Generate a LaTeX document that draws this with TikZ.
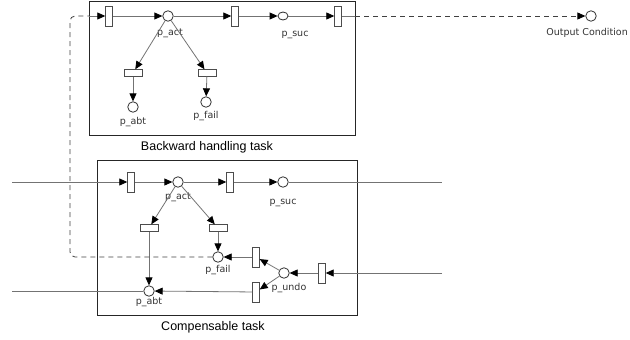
\documentclass[tikz,border=0pt]{standalone}
\usepackage{fontspec}
\setmainfont{DejaVu Sans}
\newfontfamily\capfont{Liberation Sans}
\usetikzlibrary{arrows.meta,shapes.geometric}
\begin{document}
\begin{tikzpicture}[x=1pt,y=-1pt,
  plain/.style={draw=black!55, line width=0.8pt},
  arc/.style={plain, -{Triangle[length=8pt,width=7pt,color=black]}},
  dashline/.style={draw=black!75, line width=0.8pt, dash pattern=on 5pt off 4pt},
  vtr/.style={rectangle, draw=black!70, fill=white, line width=0.9pt, minimum width=6.5pt, minimum height=20pt, inner sep=0pt},
  htr/.style={rectangle, draw=black!70, fill=white, line width=0.9pt, minimum width=18pt, minimum height=6.5pt, inner sep=0pt},
  pl/.style={circle, draw=black!80, fill=white, line width=0.8pt, minimum size=10.5pt, inner sep=0pt},
  lbl/.style={font=\fontsize{9.5}{10}\selectfont, text=black!80, inner sep=0pt},
  captxt/.style={font=\capfont\fontsize{12.5}{14}\selectfont, inner sep=0pt},
  boxst/.style={draw=black!85, line width=0.9pt}
]
\useasboundingbox (0,0) rectangle (630,340);

% ---------- Backward handling task ----------
\draw[boxst] (89,1) rectangle (355,135);
\node[captxt] at (207,147) {Backward handling task};

\node[vtr] (bt1) at (109,16) {};
\node[pl] (bact) at (168,16) {};
\node[vtr] (bt2) at (235,16) {};
\node[ellipse, draw=black!80, fill=white, line width=0.8pt, minimum width=10pt, minimum height=8pt, inner sep=0pt] (bsuc) at (283,16) {};
\node[vtr] (bt3) at (338,16) {};
\node[htr] (bta) at (133,73) {};
\node[htr] (btf) at (207,73) {};
\node[pl] (babt) at (133,107) {};
\node[pl] (bfail) at (206,102) {};

\node[lbl] at (170,33) {p\_act};
\node[lbl] at (295,35) {p\_suc};
\node[lbl] at (133,122) {p\_abt};
\node[lbl] at (206,116) {p\_fail};

\coordinate (bl) at (89,16);
\coordinate (br) at (355,16);

\draw[arc] (bl) -- (bt1);
\draw[arc] (bt1) -- (bact);
\draw[arc] (bact) -- (bt2);
\draw[arc] (bt2) -- (bsuc);
\draw[arc] (bsuc) -- (bt3);
\draw[arc] (bact) -- (bta);
\draw[arc] (bact) -- (btf);
\draw[arc] (bta) -- (babt);
\draw[arc] (btf) -- (bfail);
\draw[plain] (bt3) -- (br);

% ---------- Output condition ----------
\node[pl] (out) at (591,16) {};
\node[lbl, font=\fontsize{9.5}{10}\selectfont, anchor=east] at (628,33) {Output Condition};
\draw[dashline, -{Triangle[length=8pt,width=7pt,color=black]}] (br) -- (out);

% ---------- Compensable task ----------
\draw[boxst] (97,160) rectangle (357,315);
\node[captxt] at (213,327) {Compensable task};

\node[vtr] (ct1) at (131,182) {};
\node[pl] (cact) at (178,182) {};
\node[vtr] (ct2) at (230,182) {};
\node[pl] (csuc) at (283,182) {};
\node[htr] (cta) at (149,228) {};
\node[htr] (ctf) at (218,228) {};
\node[pl] (cfail) at (218,257) {};
\node[pl] (cabt) at (149,291) {};
\node[vtr] (cu1) at (256,257) {};
\node[vtr] (cu2) at (256,292) {};
\node[pl] (cundo) at (284,273) {};
\node[vtr] (cu3) at (322,273) {};

\node[lbl] at (178,197) {p\_act};
\node[lbl] at (283,203) {p\_suc};
\node[lbl] at (218,270) {p\_fail};
\node[lbl] at (149,302) {p\_abt};
\node[lbl] at (289,288) {p\_undo};

\coordinate (cinl) at (12,182);
\coordinate (coutr) at (442,182);
\coordinate (cinr) at (442,273);
\coordinate (cabtl) at (12,291);

\draw[arc] (cinl) -- (ct1);
\draw[arc] (ct1) -- (cact);
\draw[arc] (cact) -- (ct2);
\draw[arc] (ct2) -- (csuc);
\draw[plain] (csuc) -- (coutr);
\draw[arc] (cact) -- (cta);
\draw[arc] (cact) -- (ctf);
\draw[arc] (cta) -- (cabt);
\draw[arc] (ctf) -- (cfail);
\draw[arc] (cu1) -- (cfail);
\draw[arc] (cu2) -- (cabt);
\draw[arc] (cundo) -- (cu1);
\draw[arc] (cundo) -- (cu2);
\draw[arc] (cu3) -- (cundo);
\draw[arc] (cinr) -- (cu3);
\draw[plain] (cabt) -- (cabtl);

% ---------- dashed link from p_fail back to backward handling task ----------
\draw[dashline, rounded corners=5pt] (cfail.west) -- (70,257) -- (70,16) -- (bl);
\end{tikzpicture}
\end{document}
